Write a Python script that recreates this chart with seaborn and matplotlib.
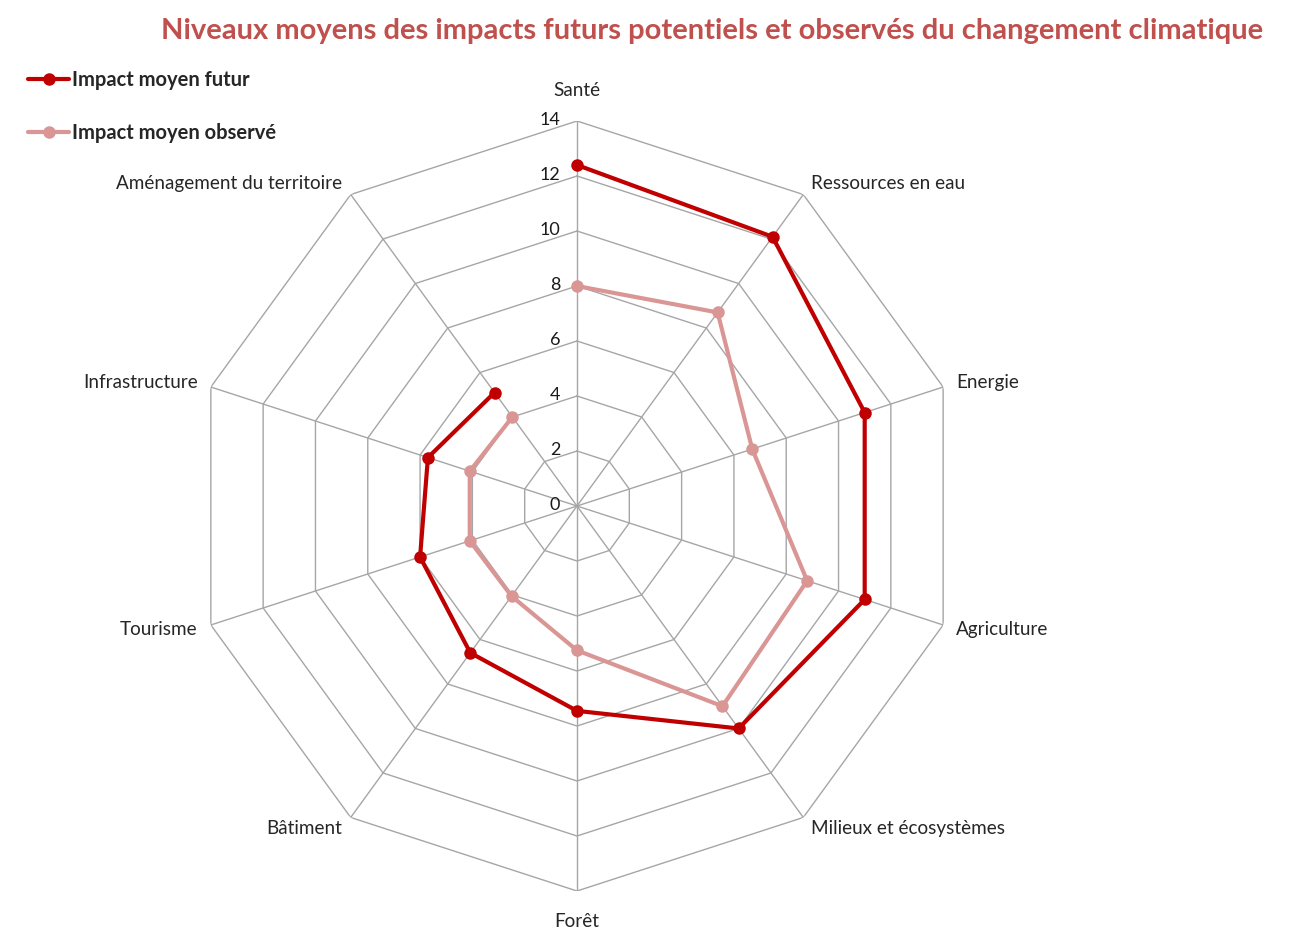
import numpy as np
import pandas as pd
import matplotlib
matplotlib.use("Agg")
import matplotlib.pyplot as plt
import seaborn as sns

# Data
categories = ["Santé", "Ressources en eau", "Energie", "Agriculture",
              "Milieux et écosystèmes", "Forêt", "Bâtiment", "Tourisme",
              "Infrastructure", "Aménagement du territoire"]
impact_futur = [12.4, 12.1, 11.0, 11.0, 10.0, 7.45, 6.6, 6.0, 5.7, 5.1]
impact_observe = [8.0, 8.7, 6.7, 8.8, 9.0, 5.25, 4.05, 4.1, 4.1, 4.0]
r_ticks = [0, 2, 4, 6, 8, 10, 12, 14]
series_names = ["Impact moyen futur", "Impact moyen observé"]
series_colors = ["#C00000", "#D99694"]

sns.set_theme(style="white")
plt.rcParams["font.family"] = ["Lato", "DejaVu Sans"]

n = len(categories)
angles = np.arange(n) * 2 * np.pi / n

fig = plt.figure(figsize=(12.9, 9.44), dpi=100)
ax = fig.add_axes([192 / 1290, 53 / 944, 770 / 1290, 770 / 944], projection="polar")
ax.set_theta_zero_location("N")
ax.set_theta_direction(-1)
ax.set_ylim(0, 14)
ax.grid(False)
ax.spines["polar"].set_visible(False)
ax.set_xticks([])
ax.set_yticks([])
ax.patch.set_alpha(0)

# polygon grid
closed = np.append(angles, angles[0])
for r in r_ticks[1:]:
    ax.plot(closed, [r] * (n + 1), color="#A6A6A6", lw=1.0, zorder=1)
for a in angles:
    ax.plot([a, a], [0, r_ticks[-1]], color="#A6A6A6", lw=1.0, zorder=1)

# radial tick labels
for r in r_ticks:
    ax.annotate(str(r), xy=(0, r), xytext=(-12, 1), textcoords="offset points",
                ha="right", va="center", fontsize=13, color="#1a1a1a")

# category labels
for a, cat in zip(angles, categories):
    deg = np.degrees(a) % 360
    if deg == 0 or deg == 180:
        ax.text(a, 15.1, cat, ha="center", va="center", fontsize=13.6)
    elif deg < 180:
        ax.text(a, 14.5, cat, ha="left", va="center", fontsize=13.6)
    else:
        ax.text(a, 14.5, cat, ha="right", va="center", fontsize=13.6)

# series
for name, vals, col in zip(series_names, [impact_futur, impact_observe], series_colors):
    df = pd.DataFrame({"theta": closed, "value": list(vals) + [vals[0]]})
    sns.lineplot(data=df, x="theta", y="value", sort=False, ax=ax, color=col,
                 lw=3, marker="o", markersize=9, markeredgewidth=0, label=name,
                 zorder=3 if name == series_names[0] else 2)

ax.set_xlabel("")
ax.set_ylabel("")
handles, labels = ax.get_legend_handles_labels()
ax.get_legend().remove()
leg = fig.legend(handles, labels, loc="upper left", bbox_to_anchor=(0.008, 0.945),
                 frameon=False, handlelength=2.0, handletextpad=0.15,
                 labelspacing=1.65, prop={"weight": "bold", "size": 14.5})

fig.text(1263 / 1290, 1 - 31 / 944, "Niveaux moyens des impacts futurs potentiels et observés du changement climatique",
         ha="right", va="center", fontsize=21, fontweight="bold", color="#C0504D")

fig.savefig("out.png", dpi=100, facecolor="white")
